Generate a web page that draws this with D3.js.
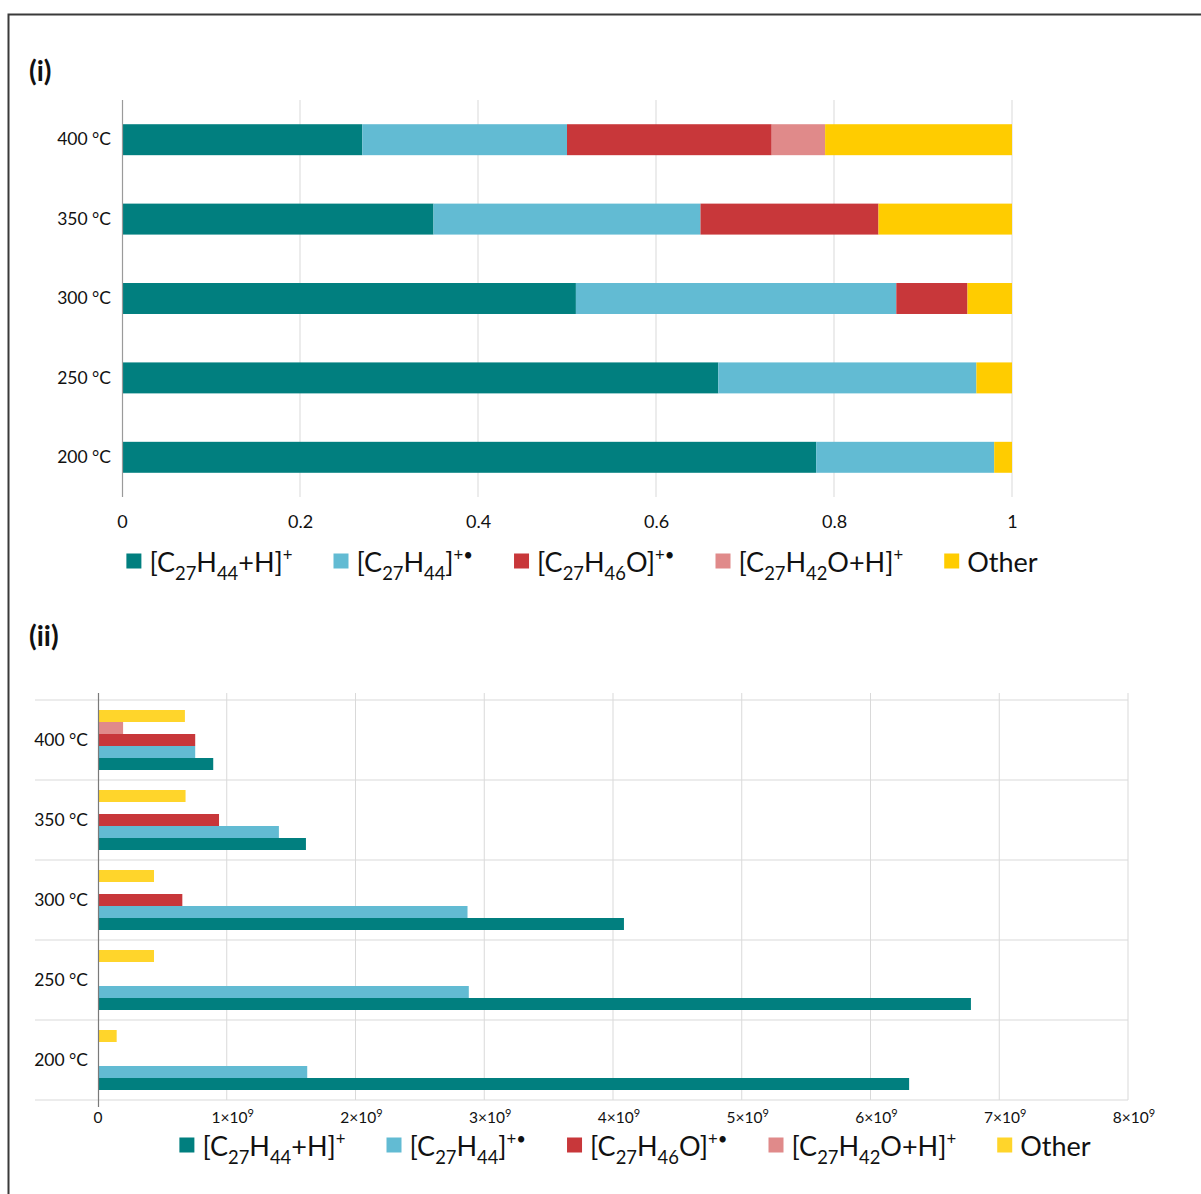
<!DOCTYPE html>
<html>
<head>
<meta charset="utf-8">
<script src="https://cdn.jsdelivr.net/npm/d3@7"></script>
<style>
  html, body { margin: 0; padding: 0; background: #fff; }
  svg { display: block; font-family: Lato, "Open Sans", sans-serif; }
</style>
</head>
<body>
<svg id="fig" width="1201" height="1194"></svg>
<script>
// Temperatures (top to bottom)
const temperatures = ["400 °C", "350 °C", "300 °C", "250 °C", "200 °C"];

// Ion species, in stacking order
const seriesKeys = ["mh", "m", "mo", "oh", "other"];

// Legend labels as rich-text runs: [text, style]
const seriesLabels = [
  [["[C", ""], ["27", "sub"], ["H", ""], ["44", "sub"], ["+H]", ""], ["+", "sup"]],
  [["[C", ""], ["27", "sub"], ["H", ""], ["44", "sub"], ["]", ""], ["+•", "sup"]],
  [["[C", ""], ["27", "sub"], ["H", ""], ["46", "sub"], ["O]", ""], ["+•", "sup"]],
  [["[C", ""], ["27", "sub"], ["H", ""], ["42", "sub"], ["O+H]", ""], ["+", "sup"]],
  [["Other", ""]]
];

const colorsTop = ["#017f7f", "#62bbd3", "#c8373a", "#e08a8a", "#ffcc00"];
const colorsBottom = ["#017f7f", "#62bbd3", "#c8373a", "#e08a8a", "#ffd52b"];

// (i) relative fraction of each species
const fracMH    = [0.27, 0.35, 0.51, 0.67, 0.78];
const fracM     = [0.23, 0.30, 0.36, 0.29, 0.20];
const fracMO    = [0.23, 0.20, 0.08, 0.00, 0.00];
const fracOH    = [0.06, 0.00, 0.00, 0.00, 0.00];
const fracOther = [0.21, 0.15, 0.05, 0.04, 0.02];

// (ii) absolute intensities
const absMH    = [0.895e9, 1.615e9, 4.085e9, 6.78e9, 6.30e9];
const absM     = [0.755e9, 1.405e9, 2.87e9, 2.88e9, 1.625e9];
const absMO    = [0.755e9, 0.94e9, 0.655e9, 0, 0];
const absOH    = [0.195e9, 0, 0, 0, 0];
const absOther = [0.675e9, 0.68e9, 0.435e9, 0.435e9, 0.145e9];

// Axis ticks
const ticksTop = [0, 0.2, 0.4, 0.6, 0.8, 1];
const ticksBottomMantissa = [0, 1, 2, 3, 4, 5, 6, 7, 8];

const svg = d3.select("#fig");
const GRID = "#d9d9d9";
const TXT = "#111";

// Outer frame
svg.append("rect")
  .attr("x", 8.5).attr("y", 14.5)
  .attr("width", 1300).attr("height", 1300)
  .attr("fill", "none").attr("stroke", "#3a3a3a").attr("stroke-width", 2);

// Panel letters
svg.append("text").attr("x", 29).attr("y", 81)
  .attr("font-size", 28).attr("font-weight", 700).attr("fill", TXT).text("(i)");
svg.append("text").attr("x", 29).attr("y", 646)
  .attr("font-size", 28).attr("font-weight", 700).attr("fill", TXT).text("(ii)");

// Rich text writer (subscripts / superscripts)
function writeRich(textSel, runs, size) {
  let shift = 0;
  runs.forEach(([s, kind]) => {
    let target = 0, fs = size;
    if (kind === "sub") { target = 0.28 * size; fs = 0.68 * size; }
    if (kind === "sup") { target = -0.4 * size; fs = 0.62 * size; }
    textSel.append("tspan")
      .attr("dy", target - shift)
      .attr("font-size", fs)
      .text(s);
    shift = target;
  });
}

// Legend laid out from measured label widths, centred at cx
function legend(cx, cy, colors) {
  const g = svg.append("g");
  const size = 27, sq = 15, gapText = 8, gapItem = 41;
  const items = seriesKeys.map((k, i) => {
    const it = g.append("g");
    it.append("rect").attr("x", 0).attr("y", cy - sq / 2).attr("width", sq).attr("height", sq)
      .attr("fill", colors[i]);
    const t = it.append("text").attr("x", sq + gapText).attr("y", cy + 11)
      .attr("font-size", size).attr("fill", TXT);
    writeRich(t, seriesLabels[i], size);
    const w = sq + gapText + t.node().getComputedTextLength();
    return { it, w };
  });
  const total = d3.sum(items, d => d.w) + gapItem * (items.length - 1);
  let x = cx - total / 2;
  items.forEach(d => { d.it.attr("transform", `translate(${x},0)`); x += d.w + gapItem; });
}

// ---------------- (i) stacked fractions ----------------
{
  const x = d3.scaleLinear().domain([0, 1]).range([122, 1012]);
  const y = d3.scaleBand().domain(temperatures).range([100, 497])
    .paddingInner(0.61).paddingOuter(0.305);

  const rows = temperatures.map((t, i) => ({
    t, mh: fracMH[i], m: fracM[i], mo: fracMO[i], oh: fracOH[i], other: fracOther[i]
  }));
  const stacked = d3.stack().keys(seriesKeys)(rows);

  // vertical gridlines
  svg.append("g").selectAll("line").data(ticksTop.filter(v => v > 0)).join("line")
    .attr("x1", d => x(d)).attr("x2", d => x(d))
    .attr("y1", 100).attr("y2", 497)
    .attr("stroke", GRID).attr("stroke-width", 1);

  svg.append("g").selectAll("g").data(stacked).join("g")
    .attr("fill", (d, i) => colorsTop[i])
    .selectAll("rect").data(d => d).join("rect")
      .attr("x", d => x(d[0]))
      .attr("width", d => Math.max(0, x(d[1]) - x(d[0])))
      .attr("y", d => y(d.data.t))
      .attr("height", y.bandwidth());

  // value axis
  const ax = svg.append("g").attr("transform", "translate(0,497)")
    .call(d3.axisBottom(x).tickValues(ticksTop).tickFormat(d3.format("~g")).tickSize(0).tickPadding(18));
  ax.select(".domain").remove();
  ax.selectAll("text").attr("font-size", 18).attr("fill", TXT).attr("font-family", "Lato");

  // category axis
  svg.append("line").attr("x1", 122.5).attr("x2", 122.5).attr("y1", 100).attr("y2", 497)
    .attr("stroke", "#9a9a9a").attr("stroke-width", 1.2);
  const ay = svg.append("g").attr("transform", "translate(122,0)")
    .call(d3.axisLeft(y).tickSize(0).tickPadding(11));
  ay.select(".domain").remove();
  ay.selectAll("text").attr("font-size", 17.5).attr("fill", TXT).attr("font-family", "Lato");

  legend(582, 561, colorsTop);
}

// ---------------- (ii) clustered intensities ----------------
{
  const x = d3.scaleLinear().domain([0, 8e9]).range([98, 1128]);
  const y = d3.scaleBand().domain(temperatures).range([700, 1100])
    .paddingInner(0.25).paddingOuter(0.125);
  // within a group the last series sits on top
  const yInner = d3.scaleBand().domain(seriesKeys.slice().reverse()).range([0, y.bandwidth()]);

  const absBy = { mh: absMH, m: absM, mo: absMO, oh: absOH, other: absOther };

  // vertical gridlines
  svg.append("g").selectAll("line").data(ticksBottomMantissa.filter(v => v > 0)).join("line")
    .attr("x1", d => x(d * 1e9)).attr("x2", d => x(d * 1e9))
    .attr("y1", 693).attr("y2", 1100)
    .attr("stroke", GRID).attr("stroke-width", 1);

  // category dividers
  const step = y.step();
  const dividers = temperatures.map(t => y(t) - y.paddingInner() * step / 2);
  dividers.push(y(temperatures[temperatures.length - 1]) + y.bandwidth() + y.paddingInner() * step / 2);
  svg.append("g").selectAll("line").data(dividers).join("line")
    .attr("x1", 35).attr("x2", 1128)
    .attr("y1", d => d).attr("y2", d => d)
    .attr("stroke", GRID).attr("stroke-width", 1.2);

  const groups = svg.append("g").selectAll("g").data(temperatures).join("g")
    .attr("transform", t => `translate(0,${y(t)})`);
  groups.selectAll("rect")
    .data((t, ti) => seriesKeys.map((k, si) => ({ k, si, v: absBy[k][ti] })).filter(d => d.v > 0))
    .join("rect")
      .attr("x", x(0))
      .attr("y", d => yInner(d.k))
      .attr("width", d => x(d.v) - x(0))
      .attr("height", yInner.bandwidth())
      .attr("fill", d => colorsBottom[d.si]);

  // axis line and zero tick
  svg.append("line").attr("x1", 98.5).attr("x2", 98.5).attr("y1", 693).attr("y2", 1107)
    .attr("stroke", "#7a7a7a").attr("stroke-width", 1.2);

  // value labels with exponent
  const tl = svg.append("g").selectAll("text").data(ticksBottomMantissa).join("text")
    .attr("x", d => x(d * 1e9) + (d === 0 ? 0 : 6))
    .attr("y", 1123)
    .attr("text-anchor", "middle")
    .attr("font-size", 15.5).attr("fill", TXT);
  tl.each(function (d) {
    const t = d3.select(this);
    if (d === 0) { t.text("0"); return; }
    t.append("tspan").text(`${d}×10`);
    t.append("tspan").attr("dy", -6).attr("font-size", 11).text("9");
  });

  const ay = svg.append("g").attr("transform", "translate(98,0)")
    .call(d3.axisLeft(y).tickSize(0).tickPadding(10));
  ay.select(".domain").remove();
  ay.selectAll("text").attr("font-size", 17.5).attr("fill", TXT).attr("font-family", "Lato");

  legend(635, 1145, colorsBottom);
}
</script>
</body>
</html>
